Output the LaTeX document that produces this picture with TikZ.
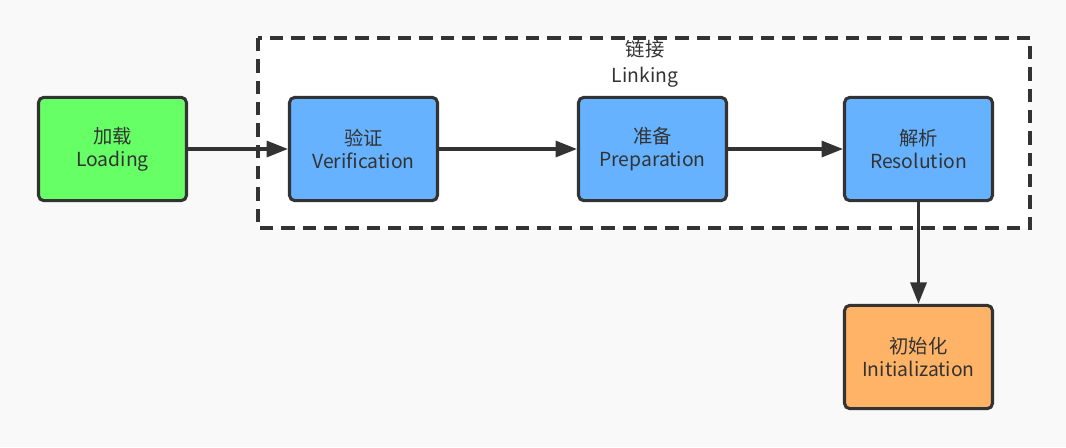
\documentclass[tikz,border=0pt]{standalone}
\usepackage{fontspec}
\setmainfont{Noto Sans CJK SC}
\usepackage{tikz}
\usetikzlibrary{positioning}
\usetikzlibrary{arrows.meta}
\definecolor{bgcol}{HTML}{F9F9F9}
\definecolor{inkcol}{HTML}{333333}
\definecolor{loadcol}{HTML}{66FF66}
\definecolor{linkcol}{HTML}{66B2FF}
\definecolor{initcol}{HTML}{FFB366}
\begin{document}
\begin{tikzpicture}[x=0.75pt,y=-0.75pt,
        stage/.style={draw=inkcol,line width=2.3pt,rounded corners=4pt,
            minimum width=111pt,minimum height=77.5pt,align=center,
            font=\fontsize{14.5}{17}\selectfont,text=inkcol},
        flow/.style={draw=inkcol,line width=2.3pt,-{Triangle[length=16pt,width=12pt]}}]
        \fill[bgcol] (0,0) rectangle (1066,447);
        \useasboundingbox (0,0) rectangle (1066,447);
        %\node at (533,20) {Class loading};
        \draw[inkcol,fill=white,line width=2.3pt,dash pattern=on 10pt off 6pt] (258,38) rectangle (1030,228);
        \node[align=center,font=\fontsize{14.5}{19.5}\selectfont,text=inkcol] (linking) at (645,64) {链接\\Linking};

        \node[stage,fill=loadcol] (loading) at (112.5,149) {加载\\Loading};
        \node[stage,fill=linkcol] (verification) at (363.5,149) {验证\\Verification};
        \node[stage,fill=linkcol] (preparation) at (652.5,149) {准备\\Preparation};
        \node[stage,fill=linkcol] (resolution) at (918.5,149) {解析\\Resolution};
        \node[stage,fill=initcol] (initialization) at (918.5,357) {初始化\\Initialization};

        \draw[flow] (loading) -- (verification);
        \draw[flow] (verification) -- (preparation);
        \draw[flow] (preparation) -- (resolution);
        \draw[flow] (resolution) -- (initialization);
    \end{tikzpicture}
\end{document}
